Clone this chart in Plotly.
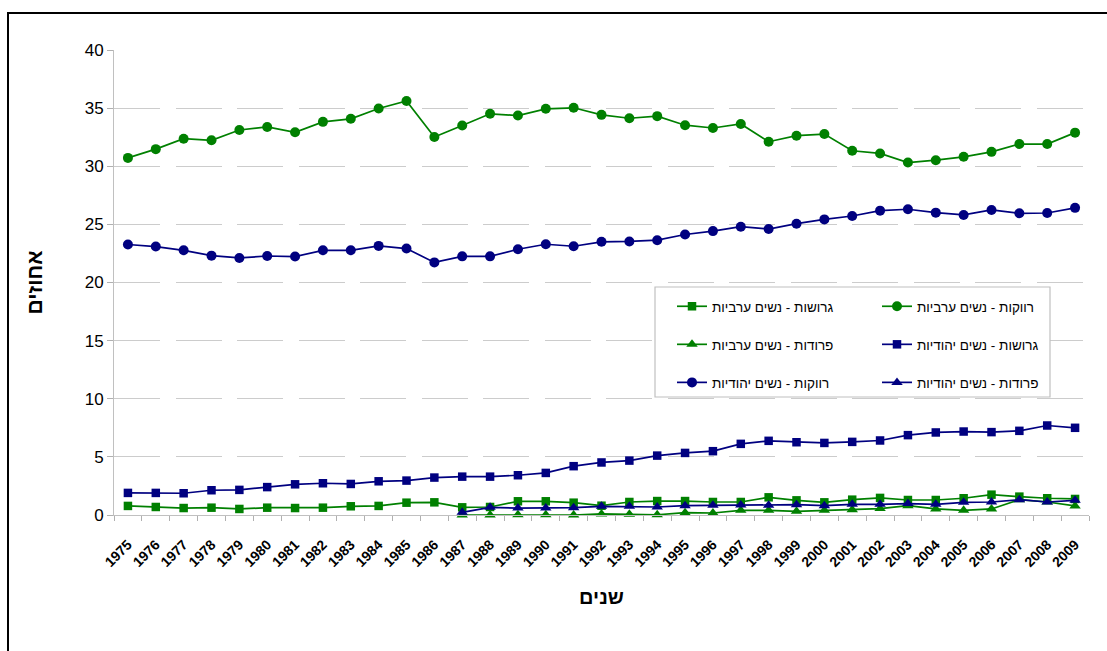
import plotly.graph_objects as go

years = ["1975", "1976", "1977", "1978", "1979", "1980", "1981", "1982", "1983", "1984",
         "1985", "1986", "1987", "1988", "1989", "1990", "1991", "1992", "1993", "1994",
         "1995", "1996", "1997", "1998", "1999", "2000", "2001", "2002", "2003", "2004",
         "2005", "2006", "2007", "2008", "2009"]
sep_years = years[12:]  # separated series start in 1987

arab_single = [30.72, 31.47, 32.37, 32.23, 33.12, 33.38, 32.92, 33.82, 34.08, 34.97,
               35.61, 32.51, 33.5, 34.51, 34.36, 34.94, 35.03, 34.42, 34.13, 34.31,
               33.53, 33.29, 33.64, 32.11, 32.63, 32.77, 31.33, 31.1, 30.32, 30.52,
               30.81, 31.24, 31.91, 31.91, 32.89]
jewish_single = [23.27, 23.09, 22.77, 22.31, 22.11, 22.28, 22.23, 22.77, 22.77, 23.15,
                 22.92, 21.73, 22.25, 22.25, 22.86, 23.29, 23.12, 23.5, 23.53, 23.64,
                 24.13, 24.42, 24.8, 24.6, 25.06, 25.43, 25.72, 26.18, 26.3, 26.01,
                 25.81, 26.24, 25.95, 25.98, 26.42]
jewish_divorced = [1.9, 1.9, 1.87, 2.13, 2.16, 2.4, 2.64, 2.73, 2.67, 2.9,
                   2.96, 3.22, 3.3, 3.3, 3.42, 3.62, 4.2, 4.52, 4.68, 5.11,
                   5.34, 5.49, 6.12, 6.38, 6.26, 6.2, 6.29, 6.41, 6.87, 7.1,
                   7.18, 7.13, 7.24, 7.7, 7.5]
arab_divorced = [0.78, 0.69, 0.6, 0.63, 0.52, 0.63, 0.6, 0.63, 0.75, 0.78,
                 1.06, 1.09, 0.66, 0.69, 1.18, 1.18, 1.06, 0.8, 1.12, 1.2,
                 1.2, 1.12, 1.12, 1.52, 1.26, 1.09, 1.32, 1.47, 1.29, 1.29,
                 1.44, 1.75, 1.58, 1.44, 1.38]
jewish_separated = [0.23, 0.66, 0.6, 0.6, 0.63, 0.75, 0.75, 0.69, 0.8, 0.83,
                    0.86, 0.83, 0.89, 0.8, 0.92, 0.92, 0.98, 0.92, 1.09, 1.12,
                    1.32, 1.12, 1.26]
arab_separated = [0.0, 0.0, 0.03, 0.03, 0.0, 0.09, 0.06, 0.02, 0.2, 0.17,
                  0.4, 0.4, 0.32, 0.4, 0.46, 0.55, 0.8, 0.52, 0.4, 0.52,
                  1.32, 1.12, 0.78]

GREEN = "#008000"
NAVY = "#000080"
FONT = "Liberation Sans, Arial, DejaVu Sans, sans-serif"

series = [
    # name, x, y, color, symbol, size, legend, rank
    ("רווקות - נשים ערביות", years, arab_single, GREEN, "circle", 10, "legend2", 1),
    ("רווקות - נשים יהודיות", years, jewish_single, NAVY, "circle", 10, "legend", 3),
    ("גרושות - נשים ערביות", years, arab_divorced, GREEN, "square", 8.5, "legend", 1),
    ("גרושות - נשים יהודיות", years, jewish_divorced, NAVY, "square", 8.5, "legend2", 2),
    ("פרודות - נשים ערביות", sep_years, arab_separated, GREEN, "triangle-up", 10, "legend", 2),
    ("פרודות - נשים יהודיות", sep_years, jewish_separated, NAVY, "triangle-up", 10, "legend2", 3),
]

fig = go.Figure()
for i, (name, xs, ys, color, sym, size, leg, rank) in enumerate(series):
    fig.add_trace(go.Scatter(
        x=xs, y=ys, name=name, mode="lines+markers",
        line=dict(color=color, width=1.7),
        marker=dict(color=color, symbol=sym, size=size),
        cliponaxis=False, legend=leg, legendgroup=f"g{i}", legendrank=rank,
    ))

legend_common = dict(
    orientation="v", traceorder="grouped", tracegroupgap=17.5,
    font=dict(family=FONT, size=13.5, color="black"),
    bgcolor="rgba(0,0,0,0)", borderwidth=0,
    xanchor="left", yanchor="top", itemwidth=30,
)

fig.update_layout(
    width=1107, height=651,
    margin=dict(l=114, r=18, t=50, b=136),
    paper_bgcolor="white", plot_bgcolor="white",
    font=dict(family=FONT, color="black"),
    showlegend=True,
    legend=dict(x=(672 - 114) / 975, y=(515 - 291) / 465, **legend_common),
    legend2=dict(x=(877 - 114) / 975, y=(515 - 291) / 465, **legend_common),
    xaxis=dict(
        type="category", categoryorder="array", categoryarray=years,
        tickson="boundaries", ticks="outside", ticklen=5, tickcolor="#b0b0b0",
        showline=True, linecolor="#c0c0c0", linewidth=1, showgrid=False,
        tickangle=-45, ticklabelstandoff=15,
        tickfont=dict(family=FONT, size=14, color="black", weight="bold"),
        title=dict(text="שנים", font=dict(family=FONT, size=20, color="black", weight="bold"),
                   standoff=21),
        range=[-0.5, len(years) - 0.5], zeroline=False, automargin=False,
    ),
    yaxis=dict(
        range=[0, 40], dtick=5, tick0=0,
        ticks="outside", ticklen=6, tickcolor="#b0b0b0",
        showline=True, linecolor="#c0c0c0", linewidth=1,
        showgrid=True, gridcolor="#cccccc", gridwidth=1, griddash="46px,15.5px",
        zeroline=False, automargin=False,
        tickfont=dict(family=FONT, size=17, color="black"),
        title=dict(text="אחוזים", font=dict(family=FONT, size=21, color="black", weight="bold"),
                   standoff=36),
    ),
    shapes=[
        # legend frame
        dict(type="rect", xref="paper", yref="paper",
             x0=(655 - 114) / 975, x1=(1050 - 114) / 975,
             y0=(515 - 397) / 465, y1=(515 - 287) / 465,
             line=dict(color="#c0c0c0", width=1.2), fillcolor="white", layer="above"),
        # outer chart frame
        dict(type="rect", xref="paper", yref="paper",
             x0=(8 - 114) / 975, x1=(1140 - 114) / 975,
             y0=(515 - 700) / 465, y1=(515 - 13) / 465,
             line=dict(color="black", width=2), fillcolor="rgba(0,0,0,0)", layer="above"),
    ],
)

fig.write_html("out.html", config={"displayModeBar": False},
               post_script="document.body.style.margin='0px';")
